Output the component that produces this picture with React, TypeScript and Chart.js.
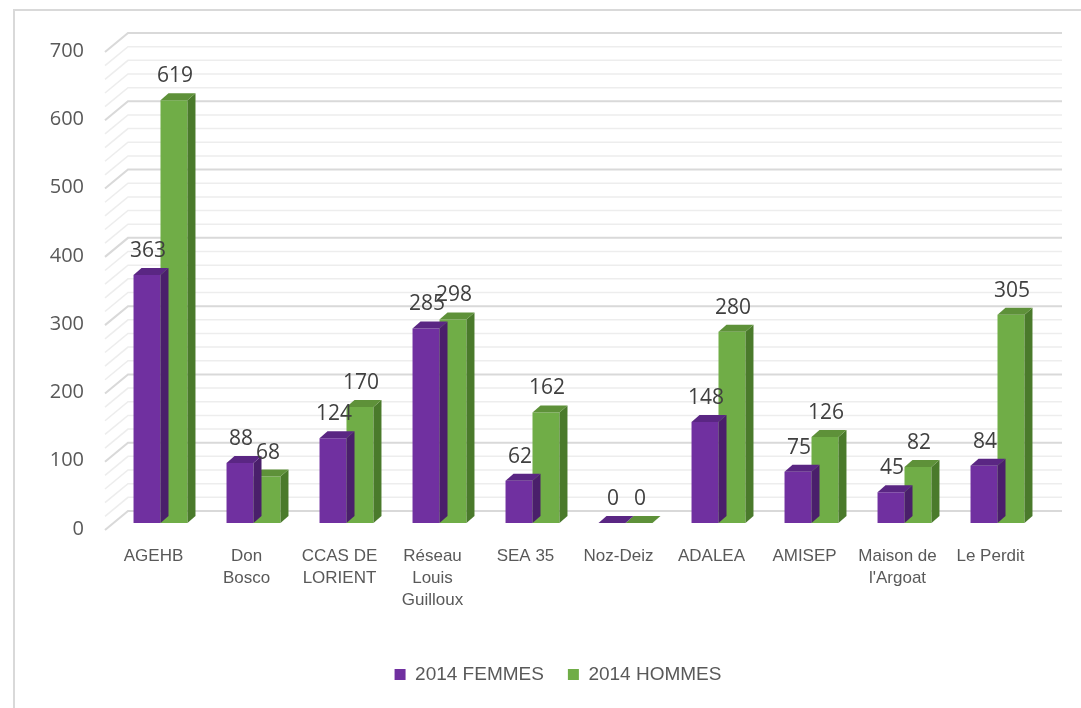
import React, { useEffect, useRef } from 'react';
import { Chart, registerables } from 'chart.js';

Chart.register(...registerables);

const categories: string[][] = [
  ['AGEHB'],
  ['Don', 'Bosco'],
  ['CCAS DE', 'LORIENT'],
  ['Réseau', 'Louis', 'Guilloux'],
  ['SEA 35'],
  ['Noz-Deiz'],
  ['ADALEA'],
  ['AMISEP'],
  ['Maison de', "l'Argoat"],
  ['Le Perdit'],
];
const femmes2014 = [363, 88, 124, 285, 62, 0, 148, 75, 45, 84];
const hommes2014 = [619, 68, 170, 298, 162, 0, 280, 126, 82, 305];
const seriesNames = ['2014 FEMMES', '2014 HOMMES'];
const yMin = 0;
const yMax = 700;
const yMajorStep = 100;
const yGridStep = 20;

const frontColors = ['#7030A0', '#70AD47'];
const topColors = ['#5A2683', '#5E9139'];
const sideColors = ['#4A1F6B', '#4A7A2B'];
const DX = 8;
const DY = -7;
const LEGEND_SHIFT = 29;

const numFont = "'Open Sans', 'Noto Sans', sans-serif";
const txtFont = "'Liberation Sans', Arial, sans-serif";

const threeDPlugin = {
  id: 'threeD',
  afterLayout(chart: any) {
    if (chart.legend) {
      chart.legend.left += LEGEND_SHIFT;
      chart.legend.right += LEGEND_SHIFT;
    }
  },
  beforeDraw(chart: any) {
    const { ctx, width, height } = chart;
    ctx.save();
    ctx.fillStyle = '#ffffff';
    ctx.fillRect(0, 0, width, height);
    ctx.strokeStyle = '#D9D9D9';
    ctx.lineWidth = 2;
    ctx.beginPath();
    ctx.moveTo(14, height);
    ctx.lineTo(14, 10);
    ctx.lineTo(width, 10);
    ctx.stroke();
    ctx.restore();
  },
  beforeDatasetsDraw(chart: any) {
    const { ctx, chartArea } = chart;
    const y = chart.scales.y;
    ctx.save();
    y.ticks.forEach((t: any) => {
      const py = y.getPixelForValue(t.value);
      const major = t.value % yMajorStep === 0;
      ctx.strokeStyle = major ? '#D9D9D9' : '#EDEDED';
      ctx.lineWidth = major ? 2 : 1.5;
      ctx.beginPath();
      ctx.moveTo(chartArea.left - 9, py + 7);
      ctx.lineTo(chartArea.left + 14, py - 12);
      ctx.lineTo(chartArea.right + 18, py - 12);
      ctx.stroke();
    });
    ctx.restore();
  },
  afterDatasetDraw(chart: any, args: any) {
    const { ctx } = chart;
    const i = args.index;
    ctx.save();
    args.meta.data.forEach((bar: any) => {
      const { x, y, base, width } = bar.getProps(['x', 'y', 'base', 'width'], true);
      const l = x - width / 2;
      const r = x + width / 2;
      ctx.fillStyle = sideColors[i];
      ctx.beginPath();
      ctx.moveTo(r, y);
      ctx.lineTo(r + DX, y + DY);
      ctx.lineTo(r + DX, base + DY);
      ctx.lineTo(r, base);
      ctx.closePath();
      ctx.fill();
      ctx.fillStyle = topColors[i];
      ctx.beginPath();
      ctx.moveTo(l, y);
      ctx.lineTo(l + DX, y + DY);
      ctx.lineTo(r + DX, y + DY);
      ctx.lineTo(r, y);
      ctx.closePath();
      ctx.fill();
    });
    ctx.restore();
  },
  afterDatasetsDraw(chart: any) {
    const { ctx } = chart;
    ctx.save();
    ctx.fillStyle = '#404040';
    ctx.font = `21px ${numFont}`;
    ctx.textAlign = 'center';
    ctx.textBaseline = 'middle';
    chart.data.datasets.forEach((ds: any, di: number) => {
      const meta = chart.getDatasetMeta(di);
      meta.data.forEach((bar: any, j: number) => {
        const { x, y } = bar.getProps(['x', 'y'], true);
        ctx.fillText(String(ds.data[j]), x + 1, y - 24);
      });
    });
    ctx.restore();
  },
};

export default function App() {
  const ref = useRef<HTMLCanvasElement>(null);
  useEffect(() => {
    if (!ref.current) return;
    const chart = new Chart(ref.current, {
      type: 'bar',
      data: {
        labels: categories,
        datasets: [
          { label: seriesNames[0], data: femmes2014, backgroundColor: frontColors[0], borderWidth: 0 },
          { label: seriesNames[1], data: hommes2014, backgroundColor: frontColors[1], borderWidth: 0 },
        ],
      },
      options: {
        responsive: false,
        animation: false,
        layout: { padding: { left: 14, right: 37, top: 45, bottom: 14 } },
        datasets: { bar: { categoryPercentage: 0.58, barPercentage: 1 } },
        scales: {
          x: {
            grid: { display: false, drawTicks: false },
            border: { display: false },
            ticks: {
              color: '#595959',
              font: { family: txtFont, size: 17, lineHeight: 1.3 },
              padding: 22,
              labelOffset: -7,
              maxRotation: 0,
              autoSkip: false,
            },
            afterFit(scale: any) {
              scale.height = 118;
            },
          },
          y: {
            min: yMin,
            max: yMax,
            grid: { display: false, drawTicks: false },
            border: { display: false },
            ticks: {
              stepSize: yGridStep,
              autoSkip: false,
              color: '#595959',
              font: { family: numFont, size: 20 },
              padding: 30,
              labelOffset: 6,
              callback: (v: any) => (Number(v) % yMajorStep === 0 ? String(v) : ''),
            },
            afterFit(scale: any) {
              scale.width = 100;
            },
          },
        },
        plugins: {
          legend: {
            position: 'bottom',
            labels: {
              boxWidth: 11,
              boxHeight: 11,
              padding: 24,
              color: '#595959',
              font: { family: txtFont, size: 19 },
            },
          },
          tooltip: { enabled: false },
        },
      },
      plugins: [threeDPlugin],
    });
    return () => chart.destroy();
  }, []);
  return (
    <div style={{ position: 'fixed', left: 0, top: 0, width: 1081, height: 708 }}>
      <canvas ref={ref} width={1081} height={708} style={{ display: 'block' }} />
    </div>
  );
}
